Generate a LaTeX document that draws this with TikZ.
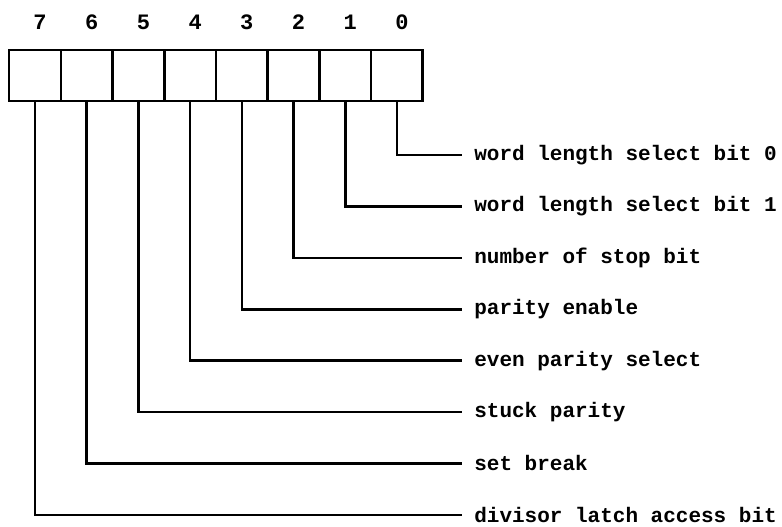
\documentclass[tikz,border=0pt]{standalone}
\usepackage{fontspec}
\setmonofont{Liberation Mono}
\usetikzlibrary{positioning}

\tikzset{
  bitbox/.style={draw,minimum width=51.7pt,minimum height=51pt,inner sep=0pt},
  bitnum/.style={font=\ttfamily\bfseries\fontsize{22}{22}\selectfont},
  bitname/.style={anchor=west,inner xsep=11pt,inner ysep=0pt,font=\ttfamily\bfseries\fontsize{21}{21}\selectfont}
}

\begin{document}
\begin{tikzpicture}[x=1pt,y=-1pt,line width=2.6pt]
	\useasboundingbox (0,0) rectangle (782,527);

	% the eight bit cells with their numbers
	\foreach \b in {7,...,0} {
		\node[bitbox] (box\b) at ({35+(7-\b)*51.7},75.5) {};
		\node[bitnum] (num\b) at ({40+(7-\b)*51.7},22) {\b};
	}

	% one name per bit
	\foreach \b/\txt in {0/word length select bit 0,1/word length select bit 1,
		2/number of stop bit,3/parity enable,4/even parity select,
		5/stuck parity,6/set break,7/divisor latch access bit} {
		\node[bitname] (name\b) at (462,{155+\b*51.4}) {\txt};
		\draw (box\b.south) |- (name\b.west);
	}
\end{tikzpicture}
\end{document}
